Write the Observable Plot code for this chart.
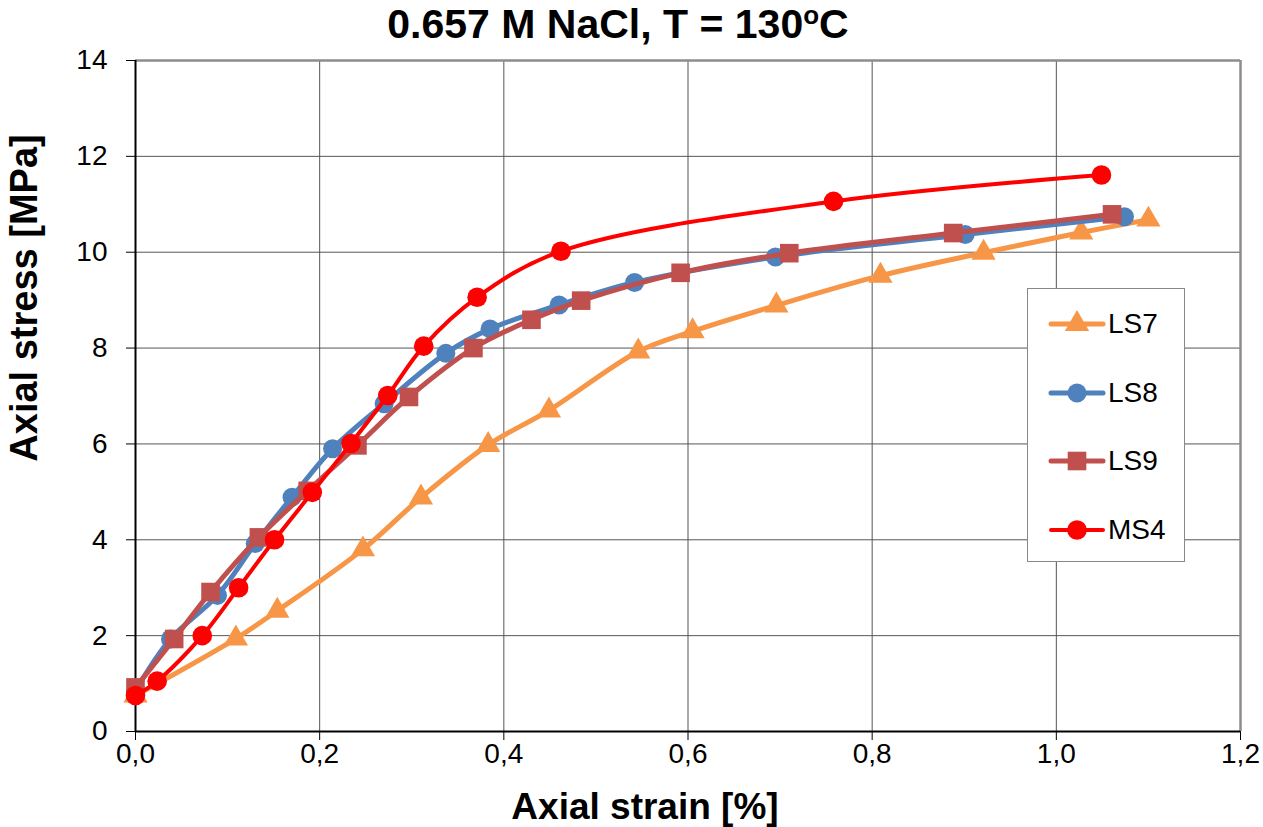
<!DOCTYPE html>
<html>
<head>
<meta charset="utf-8">
<script src="https://cdn.jsdelivr.net/npm/d3@7"></script>
<script src="https://cdn.jsdelivr.net/npm/@observablehq/plot@0.6"></script>
<style>
  body { margin: 0; background: #fff; font-family: "Liberation Sans", Arial, sans-serif; }
  #wrap { position: relative; width: 1263px; height: 827px; overflow: hidden; }
  #title { position: absolute; left: 218px; top: 0px; width: 800px; height: 50px; text-align: center;
           font-weight: bold; font-size: 41px; line-height: 48px; color: #000; }
  #title span { font-size: 26px; line-height: 26px; position: relative; top: -14px; }
  #legend { position: absolute; left: 1027px; top: 288px; width: 158px; height: 274px;
            border: 1px solid #888; background: #fff; box-sizing: border-box; }
  .row { position: absolute; left: 20px; height: 30px; display: flex; align-items: center; }
  .row svg { display: block; }
  .row div { font-size: 28px; margin-left: 2px; color: #000; }
</style>
</head>
<body>
<div id="wrap">
  <div id="chart"></div>
  <div id="title">0.657 M NaCl, T = 130<span>o</span>C</div>
  <div id="legend"></div>
</div>
<script>
// ---- data ----
const seriesNames = ["LS7", "LS8", "LS9", "MS4"];
const seriesColors = ["#F79646", "#4F81BD", "#C0504D", "#FF0000"];
const seriesSymbols = ["triangle", "circle", "square", "circle"];

const ls7Strain = [0, 0.109, 0.154, 0.247, 0.310, 0.383, 0.449, 0.546, 0.605, 0.696, 0.809, 0.921, 1.027, 1.100];
const ls7Stress = [0.75, 1.94, 2.52, 3.80, 4.88, 5.98, 6.70, 7.93, 8.35, 8.89, 9.51, 9.99, 10.41, 10.68];

const ls8Strain = [0, 0.038, 0.089, 0.130, 0.170, 0.214, 0.270, 0.337, 0.385, 0.460, 0.542, 0.695, 0.901, 1.074];
const ls8Stress = [0.85, 1.93, 2.84, 3.92, 4.89, 5.90, 6.84, 7.89, 8.40, 8.90, 9.37, 9.90, 10.37, 10.74];

const ls9Strain = [0, 0.042, 0.0815, 0.134, 0.187, 0.241, 0.297, 0.367, 0.430, 0.484, 0.592, 0.710, 0.888, 1.0605];
const ls9Stress = [0.92, 1.93, 2.91, 4.05, 5.02, 5.97, 6.98, 8.00, 8.59, 8.99, 9.57, 9.98, 10.40, 10.79];

const ms4Strain = [0, 0.0235, 0.0725, 0.112, 0.151, 0.192, 0.234, 0.274, 0.313, 0.371, 0.462, 0.758, 1.049];
const ms4Stress = [0.75, 1.05, 2.0, 3.0, 4.0, 4.99, 6.01, 7.01, 8.04, 9.06, 10.02, 11.06, 11.61];

const xTicks = [0, 0.2, 0.4, 0.6, 0.8, 1.0, 1.2];
const yTicks = [0, 2, 4, 6, 8, 10, 12, 14];
const xLabel = "Axial strain [%]";
const yLabel = "Axial stress [MPa]";

// ---- build table ----
const strains = [ls7Strain, ls8Strain, ls9Strain, ms4Strain];
const stresses = [ls7Stress, ls8Stress, ls9Stress, ms4Stress];
const tables = seriesNames.map((name, i) =>
  strains[i].map((x, j) => ({series: name, strain: x, stress: stresses[i][j]})));

const widths = [5, 5, 5, 4];
const radii = [9, 9.5, 10.5, 9.8];

const seriesMarks = [];
tables.forEach((t, i) => {
  seriesMarks.push(Plot.line(t, {x: "strain", y: "stress", stroke: seriesColors[i],
    strokeWidth: widths[i], curve: "catmull-rom", strokeLinejoin: "round", strokeLinecap: "round"}));
  seriesMarks.push(Plot.dot(t, {x: "strain", y: "stress", symbol: () => seriesSymbols[i],
    fill: seriesColors[i], stroke: "none", r: radii[i]}));
});

const chart = Plot.plot({
  width: 1263,
  height: 827,
  marginLeft: 135,
  marginRight: 23,
  marginTop: 60,
  marginBottom: 96,
  x: {domain: [0, 1.2]},
  y: {domain: [0, 14]},
  symbol: {type: "identity"},
  style: {fontFamily: "'Liberation Sans', Arial, sans-serif", color: "#000", background: "#fff"},
  marks: [
    Plot.gridX(xTicks.slice(1, -1), {stroke: "#555", strokeOpacity: 1, strokeWidth: 1}),
    Plot.gridY(yTicks.slice(1, -1), {stroke: "#555", strokeOpacity: 1, strokeWidth: 1}),
    Plot.ruleX([xTicks[xTicks.length - 1]], {stroke: "#8c8c8c", strokeWidth: 2.5}),
    Plot.ruleY([yTicks[yTicks.length - 1]], {stroke: "#8c8c8c", strokeWidth: 2.5}),
    Plot.axisX({ticks: xTicks, tickSize: 9, tickPadding: 3, fontSize: 28,
      tickFormat: d => d.toFixed(1).replace(".", ","), label: null}),
    Plot.axisY({ticks: yTicks, tickSize: 9, tickPadding: 19, fontSize: 28,
      tickFormat: d => String(d), label: null}),
    Plot.ruleX([0], {stroke: "#000", strokeWidth: 2}),
    Plot.ruleY([0], {stroke: "#000", strokeWidth: 2}),
    ...seriesMarks
  ]
});

document.getElementById("chart").appendChild(chart);

// axis titles
const svg = d3.select(chart);
svg.append("text").attr("x", 645).attr("y", 819).attr("text-anchor", "middle")
  .attr("font-size", 37).attr("font-weight", "bold").attr("fill", "#000").text(xLabel);
svg.append("text").attr("transform", "translate(37,298) rotate(-90)").attr("text-anchor", "middle")
  .attr("font-size", 38).attr("font-weight", "bold").attr("fill", "#000").text(yLabel);

// legend
const legend = document.getElementById("legend");
const rowTops = [20, 89, 157, 226];
seriesNames.forEach((name, i) => {
  const row = document.createElement("div");
  row.className = "row";
  row.style.top = rowTops[i] + "px";
  const s = d3.create("svg").attr("width", 58).attr("height", 30);
  s.append("line").attr("x1", 3).attr("x2", 55).attr("y1", 15).attr("y2", 15)
    .attr("stroke", seriesColors[i]).attr("stroke-width", widths[i]).attr("stroke-linecap", "round");
  s.append("path").attr("transform", "translate(29,15)")
    .attr("d", d3.symbol(seriesSymbols[i] === "triangle" ? d3.symbolTriangle :
      seriesSymbols[i] === "square" ? d3.symbolSquare : d3.symbolCircle, Math.PI * radii[i] * radii[i])())
    .attr("fill", seriesColors[i]);
  row.appendChild(s.node());
  const lab = document.createElement("div");
  lab.textContent = name;
  row.appendChild(lab);
  legend.appendChild(row);
});
</script>
</body>
</html>
